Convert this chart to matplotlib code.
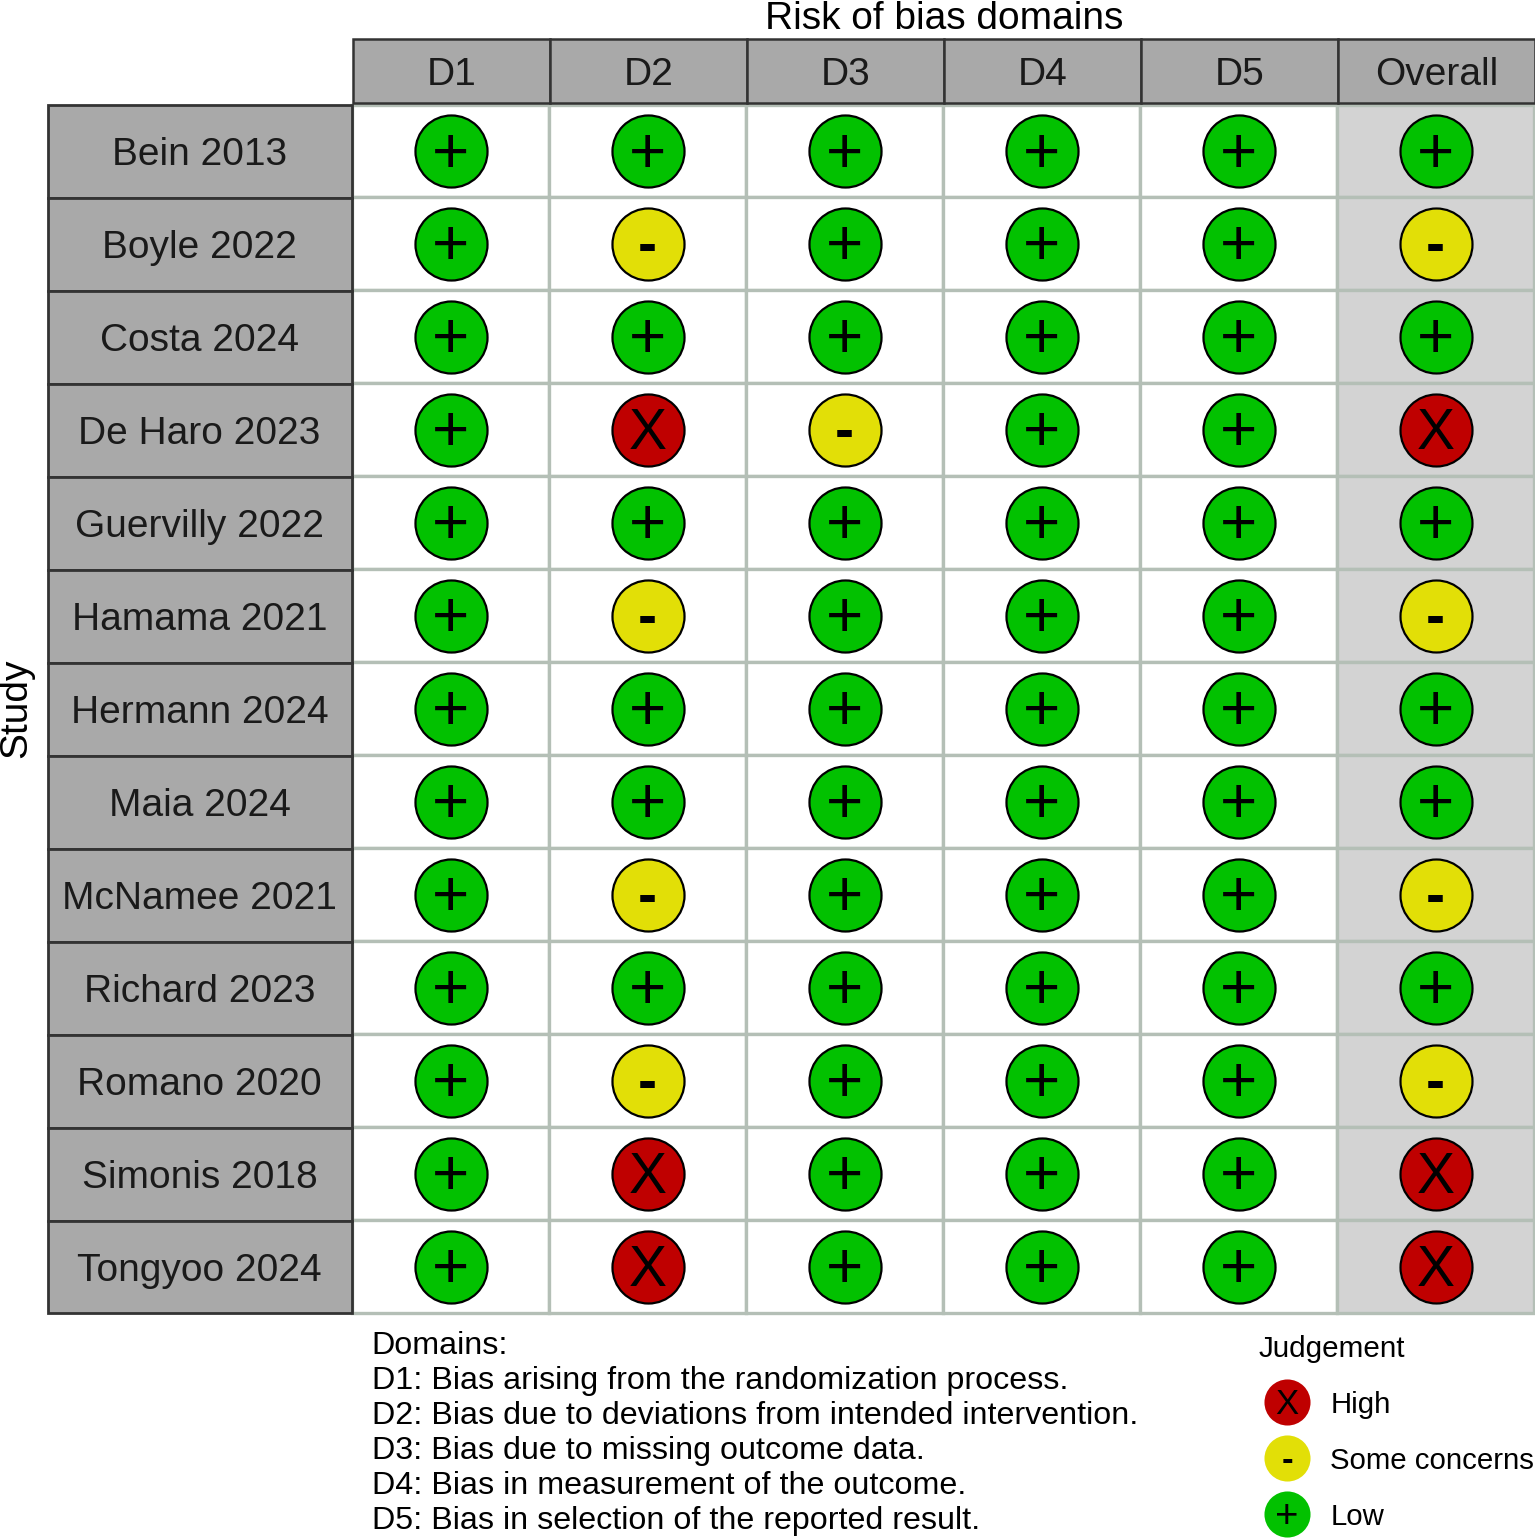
import matplotlib
matplotlib.use('Agg')
import matplotlib.pyplot as plt
from matplotlib.patches import Rectangle

plt.rcParams['font.family'] = ['Liberation Sans', 'DejaVu Sans']

# Risk of bias judgements: H = high, S = some concerns, L = low
studies = ['Bein 2013', 'Boyle 2022', 'Costa 2024', 'De Haro 2023', 'Guervilly 2022',
           'Hamama 2021', 'Hermann 2024', 'Maia 2024', 'McNamee 2021', 'Richard 2023',
           'Romano 2020', 'Simonis 2018', 'Tongyoo 2024']
domains = ['D1', 'D2', 'D3', 'D4', 'D5', 'Overall']
d1 = list('LLLLLLLLLLLLL')
d2 = list('LSLHLSLLSLSHH')
d3 = list('LLLSLLLLLLLLL')
d4 = list('LLLLLLLLLLLLL')
d5 = list('LLLLLLLLLLLLL')
overall = list('LSLHLSLLSLSHH')
judgements = [d1, d2, d3, d4, d5, overall]

domain_notes = ['Domains:',
                'D1: Bias arising from the randomization process.',
                'D2: Bias due to deviations from intended intervention.',
                'D3: Bias due to missing outcome data.',
                'D4: Bias in measurement of the outcome.',
                'D5: Bias in selection of the reported result.']
legend_levels = ['H', 'S', 'L']
legend_labels = ['High', 'Some concerns', 'Low']

colours = {'H': '#BF0000', 'S': '#E2DF07', 'L': '#02C100'}
symbols = {'H': 'X', 'S': '-', 'L': '+'}
weights = {'H': 'normal', 'S': 'bold', 'L': 'normal'}
sizes = {'H': 41, 'S': 41, 'L': 46}
lifts = {'H': 1.2, 'S': 1.2, 'L': 1.4}
W, H = 1535, 1538
STRIP = '#A9A9A9'
GRID = '#B4BFB6'
EDGE = '#333333'


def axes_px(x0, y0, x1, y1):
    # axes placed by pixel box, y measured from the top of the image
    return fig.add_axes([x0 / W, 1 - y1 / H, (x1 - x0) / W, (y1 - y0) / H])


fig = plt.figure(figsize=(W / 100, H / 100), dpi=100)

# main grid
ax = axes_px(352, 104.5, 1534, 1313)
ax.set_xlim(-0.5, len(domains) - 0.5)
ax.set_ylim(len(studies) - 0.5, -0.5)
ax.axis('off')
for j, col in enumerate(judgements):
    for i, level in enumerate(col):
        face = '#D3D3D3' if domains[j] == 'Overall' else 'white'
        ax.add_patch(Rectangle((j - 0.5, i - 0.5), 1, 1, fc=face, ec=GRID, lw=2.4, clip_on=False, zorder=1))
        if domains[j] == 'Overall':
            ax.scatter(j, i, s=2850, c='white', lw=0, zorder=2)
        ax.scatter(j, i, s=2690, c=colours[level], edgecolors='black', linewidths=1.6, zorder=3)
        ax.annotate(symbols[level], (j, i), xytext=(0, lifts[level]), textcoords='offset points',
                    fontsize=sizes[level], fontweight=weights[level], ha='center', va='center_baseline',
                    color='black', zorder=4)

# strips, title and notes drawn in image pixels
pix = axes_px(0, 0, W, H)
pix.set_xlim(0, W)
pix.set_ylim(H, 0)
pix.axis('off')
pix.patch.set_alpha(0)

for j, name in enumerate(domains):
    x0 = 353 + j * 197
    pix.add_patch(Rectangle((x0, 38.5), 196.5, 64.5, fc=STRIP, ec=EDGE, lw=1.8))
    pix.text(x0 + 98.6, 71, name, fontsize=28, ha='center', va='center_baseline', color='#1A1A1A')

for i, name in enumerate(studies):
    y0 = 105 + i * 92.96
    pix.add_patch(Rectangle((48, y0), 303.5, 92.96, fc=STRIP, ec=EDGE, lw=2.0))
    pix.text(199.6, y0 + 46.3, name, fontsize=28, ha='center', va='center_baseline', color='#1A1A1A')

pix.text(944, 15, 'Risk of bias domains', fontsize=28, ha='center', va='center_baseline')
pix.text(16, 708, 'Study', fontsize=28, rotation=90, ha='center', va='center')

for k, line in enumerate(domain_notes):
    pix.text(371.5, 1342.5 + k * 35, line, fontsize=23.2, ha='left', va='center_baseline')

# judgement legend
pix.text(1259, 1346, 'Judgement', fontsize=21.3, ha='left', va='center_baseline')
leg = axes_px(1259, 1374, 1315, 1542)
leg.set_xlim(-0.5, 0.5)
leg.set_ylim(2.5, -0.5)
leg.axis('off')
leg.patch.set_alpha(0)
for i, level in enumerate(legend_levels):
    leg.scatter(0, i, s=1100, c=colours[level], lw=0, clip_on=False)
    leg.annotate(symbols[level], (0, i), xytext=(0, 0.8), textcoords='offset points',
                 fontsize=25 if level != 'L' else 29, fontweight=weights[level], ha='center',
                 va='center_baseline', color='black')
    pix.text(1330.5, 1402 + i * 56.2, legend_labels[i], fontsize=21.2, ha='left', va='center_baseline')

fig.savefig('out.png', dpi=100)
